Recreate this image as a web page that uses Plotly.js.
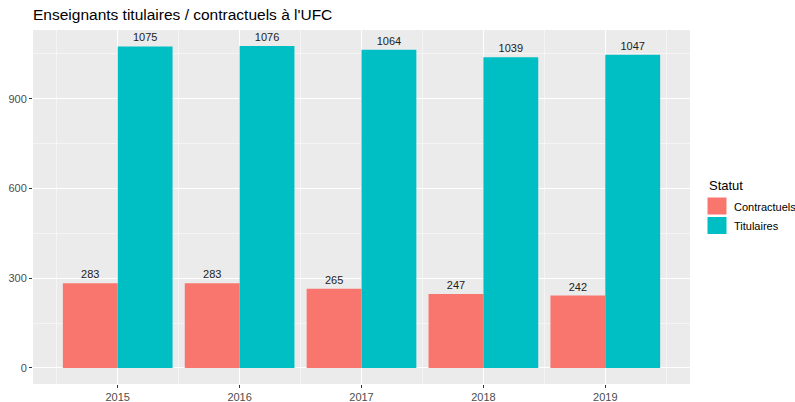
<!DOCTYPE html>
<html><head><meta charset="utf-8">
<script src="https://cdn.plot.ly/plotly-3.0.1.min.js"></script>
<style>body{margin:0;}#c{width:795px;height:402px;}</style>
</head><body><div id="c"></div>
<script>
const years = [2015, 2016, 2017, 2018, 2019];
const contractuels = [283, 283, 265, 247, 242];
const titulaires = [1075, 1076, 1064, 1039, 1047];
const seriesNames = ["Contractuels", "Titulaires"];
const colors = ["#F8766D", "#00BFC4"];
const legendTitle = "Statut";

const font = "Liberation Sans, Arial, sans-serif";
const L = 33, R = 690, T = 30, B = 384;
const px = x => (x - L) / (R - L);
const py = y => (B - y) / (B - T);

function tr(vals, i) {
  return {
    type: 'bar', x: years, y: vals, name: seriesNames[i],
    width: 0.45, offset: i === 0 ? -0.45 : 0,
    marker: {color: colors[i], line: {width: 0}},
    text: vals.map(String), textposition: 'outside',
    textfont: {family: font, size: 11, color: '#222'},
    cliponaxis: false, hoverinfo: 'x+y', showlegend: false
  };
}
const data = [tr(contractuels, 0), tr(titulaires, 1)];

const shapes = [], annotations = [];
annotations.push({xref: 'paper', yref: 'paper', x: px(707), y: py(185), xanchor: 'left', yanchor: 'middle',
  text: legendTitle, showarrow: false, font: {family: font, size: 13, color: '#000'}});
seriesNames.forEach((n, i) => {
  const top = 197.5 + i * 19.5;
  shapes.push({type: 'rect', xref: 'paper', yref: 'paper', x0: px(707.5), x1: px(726.5),
    y0: py(top + 17), y1: py(top), fillcolor: colors[i], line: {width: 0}});
  annotations.push({xref: 'paper', yref: 'paper', x: px(732), y: py(top + 9), xanchor: 'left', yanchor: 'middle',
    text: n, showarrow: false, font: {family: font, size: 11, color: '#000'}});
});

const layout = {
  width: 795, height: 402,
  margin: {l: L, r: 795 - R, t: T, b: 402 - B},
  paper_bgcolor: 'white', plot_bgcolor: '#EBEBEB',
  barmode: 'overlay', showlegend: false,
  font: {family: font, size: 11, color: '#4D4D4D'},
  title: {text: 'Enseignants titulaires / contractuels à l\'UFC', x: 33 / 795, xanchor: 'left', y: 1 - 15 / 402, yanchor: 'middle',
          font: {family: font, size: 15.5, color: '#000'}},
  xaxis: {range: [2014.305, 2019.695], tickmode: 'array', tickvals: years, ticktext: years.map(String),
          showgrid: true, gridcolor: 'white', gridwidth: 1.1, zeroline: false,
          ticks: 'outside', ticklen: 3, tickcolor: '#333', tickwidth: 1,
          minor: {dtick: 0.5, tick0: 2014.5, showgrid: true, gridcolor: 'white', gridwidth: 0.5, ticks: ''},
          tickfont: {family: font, size: 11, color: '#4D4D4D'}, fixedrange: true, automargin: false},
  yaxis: {range: [-53.8, 1129.8], tickvals: [0, 300, 600, 900], showgrid: true, gridcolor: 'white', gridwidth: 1.1,
          zeroline: false, ticks: 'outside', ticklen: 3, tickcolor: '#333', tickwidth: 1,
          minor: {dtick: 150, tick0: 0, showgrid: true, gridcolor: 'white', gridwidth: 0.5, ticks: ''},
          tickfont: {family: font, size: 11, color: '#4D4D4D'}, fixedrange: true, automargin: false},
  shapes: shapes, annotations: annotations
};
Plotly.newPlot('c', data, layout, {displayModeBar: false, staticPlot: true});
</script></body></html>
